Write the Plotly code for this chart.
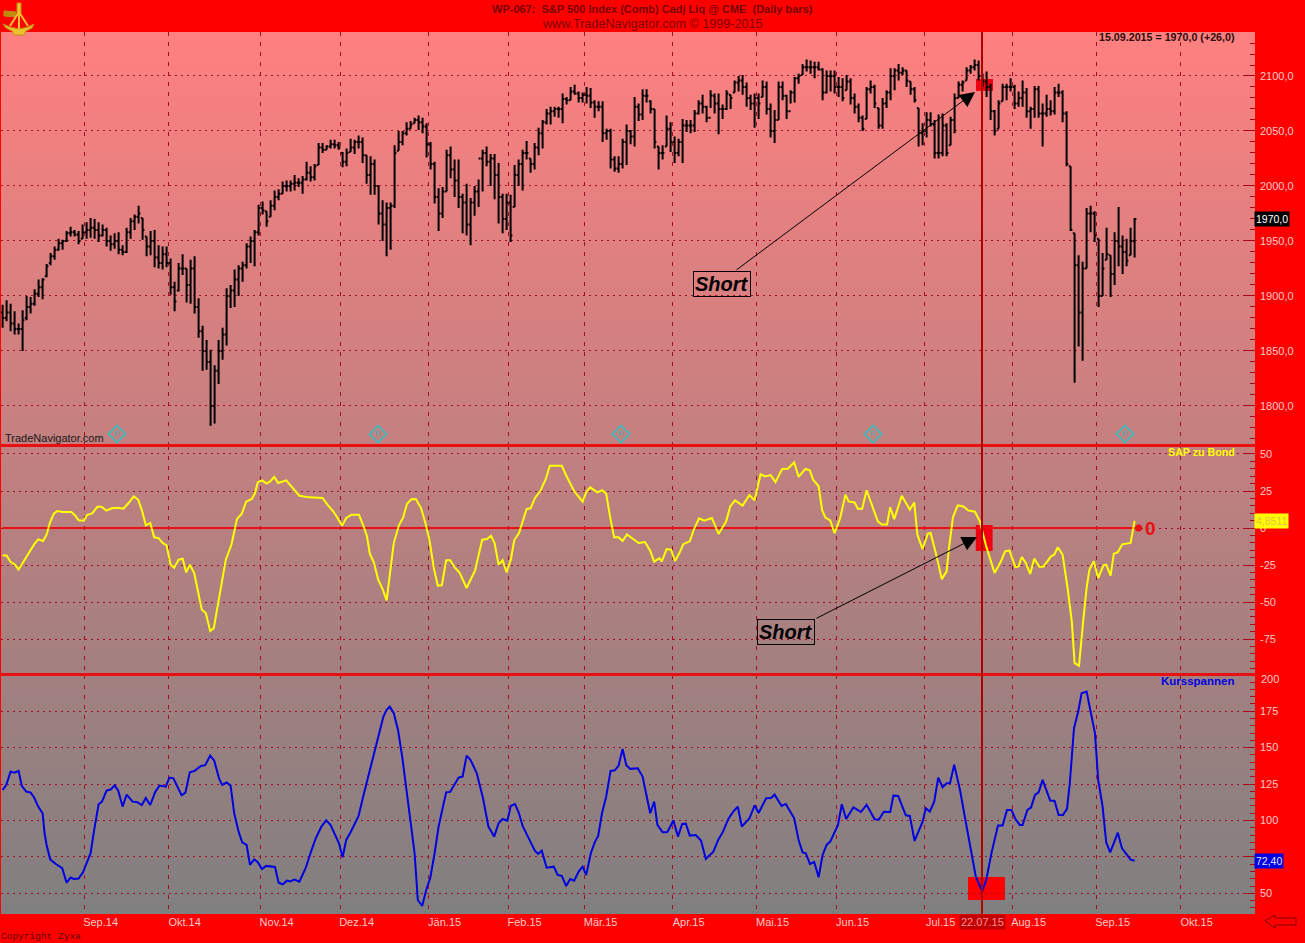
import base64, struct, zlib
import plotly.graph_objects as go

W, H = 1305, 943
bar_high = [
1892,1896,1893,1886,1875,1887,1900,1899,1906,1915,
1916,1929,1939,1945,1952,1951,1959,1963,1960,1959,
1965,1967,1971,1970,1967,1965,1962,1955,1957,1958,
1946,1962,1971,1974,1982,1971,1954,1959,1960,1946,
1945,1945,1934,1913,1930,1938,1925,1933,1936,1898,
1873,1860,1851,1837,1860,1871,1907,1910,1924,1928,
1931,1948,1954,1960,1983,1986,1977,1987,1996,1997,
2004,2005,2005,2010,2007,2009,2022,2018,2020,2039,
2039,2037,2042,2042,2040,2031,2034,2043,2042,2046,
2044,2028,2027,2024,2000,1987,1985,1985,2037,2050,
2050,2058,2059,2062,2064,2062,2057,2040,2022,1998,
1999,2033,2036,2024,2024,1993,2002,1989,2000,2006,
2033,2036,2029,2029,2021,1993,1993,1992,2019,2024,
2033,2041,2025,2039,2053,2060,2070,2072,2072,2072,
2084,2081,2090,2092,2086,2085,2090,2089,2078,2077,
2077,2052,2052,2027,2027,2043,2056,2051,2081,2075,
2088,2088,2078,2070,2036,2037,2064,2058,2045,2043,
2061,2060,2060,2069,2078,2083,2073,2087,2084,2084,
2074,2087,2083,2096,2100,2101,2094,2083,2084,2084,
2096,2095,2075,2069,2095,2095,2083,2087,2099,2102,
2111,2115,2114,2113,2113,2107,2105,2105,2105,2099,
2098,2101,2098,2084,2075,2064,2090,2096,2092,2071,
2080,2087,2107,2107,2111,2108,2105,2095,2090,2071,
2057,2067,2067,2060,2065,2066,2057,2063,2084,2095,
2096,2108,2110,2115,2114,2102,2104,2093,2069,2078,
2093,2093,2098,2092,2086,2096,2089,2072,2091,2091,
2075,2083,2078,2090,2093,2087,2068,2018,1957,1937,
1931,1980,1982,1977,1952,1939,1962,1937,1958,1981,
1955,1952,1962,1971]
bar_low = [
1871,1877,1868,1865,1865,1850,1878,1884,1891,1899,
1897,1917,1928,1933,1941,1942,1949,1954,1954,1947,
1952,1952,1953,1952,1949,1954,1945,1941,1943,1938,
1937,1939,1952,1960,1966,1951,1936,1937,1926,1925,
1924,1926,1901,1886,1904,1919,1894,1893,1884,1862,
1832,1833,1782,1784,1820,1842,1855,1889,1890,1900,
1913,1925,1930,1927,1955,1974,1963,1972,1978,1987,
1993,1995,1995,1996,1999,1993,2005,2004,2005,2019,
2030,2033,2034,2034,2033,2017,2018,2031,2029,2034,
2021,2002,1992,1992,1965,1950,1936,1942,1980,2032,
2037,2046,2052,2057,2051,2048,2026,2015,1984,1959,
1971,1995,2007,1990,1980,1957,1955,1946,1973,1981,
1995,2018,2000,1988,1966,1957,1960,1949,1981,2000,
1996,2024,2012,2015,2028,2034,2056,2056,2063,2062,
2057,2074,2078,2083,2076,2076,2075,2071,2062,2068,
2040,2042,2016,2013,2012,2016,2019,2038,2036,2059,
2060,2076,2066,2034,2015,2024,2036,2031,2021,2027,
2021,2049,2048,2049,2065,2066,2058,2071,2066,2047,
2061,2069,2070,2085,2086,2083,2072,2069,2053,2061,
2081,2065,2044,2039,2060,2078,2061,2075,2076,2093,
2101,2104,2102,2098,2105,2078,2084,2086,2084,2081,
2077,2087,2074,2066,2058,2050,2061,2084,2071,2052,
2052,2071,2078,2087,2096,2101,2090,2083,2076,2036,
2037,2044,2054,2025,2025,2027,2027,2037,2048,2080,
2086,2096,2102,2105,2096,2090,2081,2060,2046,2052,
2077,2078,2086,2070,2072,2072,2062,2052,2062,2062,
2036,2063,2064,2065,2081,2058,2018,1959,1821,1854,
1841,1925,1958,1949,1890,1900,1933,1899,1910,1927,
1920,1927,1937,1935]
bar_close = [
1880,1885,1875,1870,1870,1878,1890,1893,1902,1908,
1915,1927,1936,1942,1948,1950,1957,1958,1956,1950,
1958,1960,1962,1960,1955,1960,1950,1947,1950,1942,
1940,1958,1968,1972,1975,1960,1945,1950,1935,1930,
1938,1930,1908,1895,1925,1925,1910,1925,1890,1868,
1850,1840,1800,1832,1850,1865,1900,1905,1915,1925,
1928,1945,1950,1958,1980,1978,1968,1982,1990,1993,
2000,2000,2002,2003,2003,2006,2012,2008,2018,2035,
2033,2036,2038,2037,2035,2022,2030,2035,2040,2040,
2028,2010,2020,2000,1975,1965,1980,1982,2030,2040,
2048,2052,2056,2060,2058,2054,2038,2020,1990,1975,
1995,2028,2015,2005,1990,1985,1965,1985,1995,2025,
2030,2022,2025,2010,1990,1970,1985,1955,2010,2020,
2030,2030,2020,2035,2048,2058,2066,2068,2070,2070,
2079,2078,2086,2084,2080,2083,2082,2076,2072,2072,
2048,2050,2024,2016,2020,2040,2050,2045,2072,2065,
2082,2082,2070,2040,2030,2030,2052,2040,2030,2040,
2055,2055,2055,2066,2075,2072,2062,2082,2075,2070,
2070,2084,2080,2094,2096,2090,2080,2075,2080,2075,
2090,2070,2050,2060,2090,2082,2068,2085,2098,2100,
2108,2108,2108,2108,2106,2085,2100,2100,2090,2090,
2080,2095,2080,2072,2062,2052,2088,2090,2075,2055,
2075,2085,2100,2105,2103,2105,2096,2088,2078,2048,
2050,2060,2056,2030,2030,2055,2030,2060,2080,2092,
2094,2105,2108,2110,2100,2095,2090,2068,2050,2075,
2090,2090,2090,2075,2080,2085,2068,2070,2088,2066,
2066,2070,2068,2085,2085,2066,2020,1960,1928,1885,
1925,1975,1975,1955,1900,1925,1938,1920,1950,1945,
1940,1932,1950,1970]
bar_open = [
1885,1880,1885,1875,1870,1870,1880,1890,1893,1902,
1908,1918,1930,1936,1942,1948,1950,1957,1958,1956,
1952,1958,1960,1962,1960,1955,1960,1950,1947,1950,
1942,1940,1958,1968,1972,1971,1954,1945,1950,1935,
1930,1938,1930,1908,1905,1925,1925,1910,1925,1890,
1868,1850,1840,1800,1832,1850,1865,1900,1905,1915,
1925,1928,1945,1950,1958,1980,1977,1972,1982,1990,
1993,2000,2000,2002,2003,2003,2006,2012,2008,2019,
2035,2033,2036,2038,2037,2030,2022,2031,2035,2040,
2040,2028,2010,2020,2000,1975,1965,1980,1982,2032,
2040,2048,2052,2057,2060,2058,2054,2038,2020,1990,
1975,1995,2028,2015,2005,1990,1985,1965,1985,1995,
2025,2030,2022,2025,2010,1990,1970,1985,1981,2010,
2020,2030,2025,2020,2035,2048,2058,2066,2068,2070,
2070,2079,2078,2086,2084,2080,2083,2082,2076,2072,
2072,2048,2050,2024,2016,2020,2040,2050,2045,2072,
2065,2082,2077,2070,2036,2030,2036,2052,2040,2030,
2040,2055,2055,2055,2066,2075,2072,2062,2082,2075,
2070,2070,2083,2085,2094,2096,2090,2080,2075,2080,
2081,2090,2070,2050,2060,2090,2082,2068,2085,2098,
2101,2108,2108,2108,2108,2106,2085,2100,2100,2090,
2090,2087,2095,2080,2072,2062,2061,2088,2090,2071,
2055,2075,2085,2100,2105,2103,2105,2095,2088,2071,
2048,2050,2060,2056,2030,2030,2055,2037,2060,2080,
2092,2096,2105,2108,2110,2100,2095,2090,2068,2052,
2077,2090,2090,2090,2075,2080,2085,2068,2070,2088,
2066,2066,2070,2068,2085,2085,2066,2018,1957,1928,
1885,1925,1975,1975,1952,1900,1933,1937,1920,1950,
1945,1940,1937,1950]

bond_x = [0,1,2,3,4,5,6.4,8,8.9,10.1,11,11.8,12.8,13.7,15,17.2,18.2,19,20.3,21.1,22.4,23.7,24.8,25.9,27.3,28.9,30.2,31.5,32.8,33.9,34.9,35.8,36.9,37.9,39,40,41,42,42.9,44,45,45.9,46.8,47.9,48.7,49.8,50.8,51.9,52.8,53.9,54.9,55.8,57.2,58.6,59.8,60.9,62.3,63.1,63.8,64.9,66,66.9,67.9,68.9,70.9,72.4,74.2,76.6,80,81.2,82.8,84.9,85.9,87.2,89.1,90.4,91.1,91.8,92.8,93.9,95,96,97,97.8,99.1,100.1,101.1,102.2,103.3,104.6,105.7,106.7,107.8,108.8,109.8,110.9,111.9,113,114.2,116,118.1,119.9,121.1,122.1,123,124,125,126,127.1,127.9,129.1,130.2,131,132,133.1,134.4,135.8,136.8,139.8,140.8,142.9,145,146,146.9,148.7,149.9,150.9,152,152.9,154,155,156.1,157.4,159,160.6,161.9,162.9,164.2,164.8,166,167.1,168.1,169.2,170.2,171.8,172.8,174.1,175.4,177.3,179,180.9,181.9,183.1,185,186.7,188,189.5,190.6,192,193.2,194.9,196.3,197.9,199,200.7,201.8,202.6,204,204.9,205.7,206.9,208,209.4,210.7,211.5,213,213.8,214.9,216,217.2,218.8,219.8,221.1,221.9,222.9,224.8,226.8,227.9,228.7,230,231.3,232,233.1,234.8,236,236.6,237.6,238.8,240.2,241.4,243.1,244.3,245.9,248,249.6,250.6,251.7,253.2,254,254.8,255.8,256.9,257.9,259.2,260.2,262.1,262.9,263.8,265,266.3,267.3,268,269.1,270.1,271,271.7,272.8,273.9,275.2,275.9,277,277.8,278.8,279.9,282,283]
bond_y = [-18.5,-18.5,-23,-24.5,-28,-24,-17.5,-10.6,-7.7,-8.8,-4.5,3.4,9.7,11.5,10.8,10.8,8.3,5.2,5,8.8,9.9,14.4,14.4,11.7,13.3,13.7,13,16.9,21.4,19.1,11.3,1.8,3.4,-6.3,-6.8,-10.1,-11.7,-24.8,-26.8,-21.4,-20.7,-30,-24.8,-30.4,-40.5,-55.2,-57.4,-69.6,-67.6,-50.7,-37.2,-21.4,-11.3,6.1,9.7,17.8,19.6,23.6,31,32.2,30,31.5,34.5,30.4,32.2,27.7,21.8,20.7,20.3,15.8,10.8,1.6,6.8,9,9,0,-5.6,-17.3,-23.2,-34.9,-41.2,-48.9,-28.2,-10.1,2,6.8,16.4,19.4,19.6,13.5,3.4,-7.9,-27,-39,-38.7,-21.8,-21.8,-26.6,-30,-40.5,-28.8,-7.9,-7.4,-5.2,-10.1,-24.8,-21.8,-30,-20.9,-8.3,-3.4,6.8,12.8,13.3,20.3,24.8,33.1,42.1,42.1,36,24.8,17.8,24.8,27.5,24.1,25.5,23.2,5.6,-6.3,-6.3,-8.8,-4.3,-7,-10.1,-9.5,-15.3,-22.7,-20.3,-22.5,-14.2,-14.6,-22.3,-16.9,-10.8,-9,-1.1,6.5,5,6.8,-4,4.5,14.6,18.7,15.1,22.3,18.7,36.3,34.9,35.8,31,39.9,40.1,44.4,34.5,39.9,39,32.7,28.2,11.9,7,5.2,-3.4,6.8,22.5,18,17.3,13,13,25.5,16.9,4.5,2.3,2.3,14,6,21.8,12.4,17.3,-4.5,-14.2,-3.8,-3.4,-14.6,-34.5,-29.3,-13.5,7.4,15.3,14.6,11.9,11,4.5,-12.4,-30.4,-22.5,-15.8,-15.1,-26.4,-25.9,-19.6,-23.6,-31,-20.7,-26.1,-26.1,-19.1,-18,-13,-18,-41.7,-63,-91.2,-93,-64.2,-40.5,-28.2,-22.5,-33.8,-25.2,-24.8,-32.2,-17.3,-16.4,-11,-10.1,4.85]

range_x = [0,0.9,2,3,4,4.8,5.9,7,7.85,8.9,10,10.5,11,11.9,13.3,14.9,16,17,17.8,19,20.1,21.1,22,22.9,24,24.85,26,27.1,28,28.9,30,31,32.5,33.55,34.8,35.8,36.9,38.2,39.25,40.8,41.7,42.7,43.7,44.75,45.7,46.8,48,49.6,50.65,51.9,52.9,54.1,54.9,56,57,57.9,59,59.9,61,61.85,62.9,63.8,64.85,65.9,68.1,69,70.05,71.1,71.9,73,74.2,75.75,77.1,78.3,79.7,80.9,82,83.3,84.1,85,85.9,87,88.2,89,90.35,91.1,92.1,93.15,94.2,95.2,96,96.8,97.8,98.85,99.9,100.9,102,103,103.8,104.9,105.9,106.9,108,109,110,110.9,111.9,113,114,115,116,117,118.55,120.1,121.45,122.9,124,125,126.2,127.05,128.1,129.1,130,131.2,132.2,133.1,133.9,134.8,136,137.8,138.75,139.8,140.9,141.9,142.9,144,145,145.9,147.05,148.1,148.9,149.85,150.9,152,153.05,154,155,155.9,156.9,158.8,160,161.9,162.9,163.7,165,166.2,167.7,168.85,169.9,170.8,171.8,173.3,174.6,175.8,177.7,178.9,180.1,181.5,182.75,183.8,184.8,186.7,188,189,190.9,192.1,193,194.75,195.8,197.9,199,200,200.8,201.85,202.9,204,205,206,206.9,208.85,209.8,210.9,212.7,214.6,216,217,218,219.1,220.3,221.9,222.7,223.9,225.8,226.8,228,230,230.8,231.8,232.9,233.9,235,236,236.85,237.9,239.35,240.7,242.05,243.3,244.9,245.9,247.3,248.85,250,251.1,252.2,253.2,254.3,255,256.2,257.1,258.1,259,260,261.9,263,264,265.1,266.1,266.8,267.85,268.9,269.75,271,272,273.1,273.9,275,275.9,276.9,277.95,278.8,279.85,280.9,282,283]
range_y = [120.9,124.3,133.5,132.8,134,123.7,119.8,119.1,115.9,109.5,104.9,91.2,83.2,73.3,70.1,67.2,57.3,60.8,59.8,60.1,64.4,71.7,77.5,93.5,111.1,112.9,120.5,121.4,124.1,120.5,109.5,117.7,112.9,112.7,110.6,115.4,110.6,119.8,123.9,123.2,129.4,128.9,123.2,117.3,119.1,133.1,134,137.4,137.9,144.5,141.1,128.9,124.4,126,123.9,104.9,92.3,85,83.2,69.5,73.3,71.3,66.7,68.8,68.1,57.3,56.2,58.7,58.2,59.4,58,67.2,78.6,87.8,95.8,100.1,96.9,89.6,84.3,74.7,86.6,91.9,99.2,103.1,118.6,126.7,135.8,148.4,159.8,171.3,175.9,178.1,173.6,162.1,143.8,123.2,100.3,77.5,45.4,41.3,52.3,60.3,77.5,95.8,108.4,119.3,119.6,124.4,129.4,130.1,144.5,141.5,132.4,115.2,95.8,88.9,98.1,101,99.9,110,111.3,104.9,96.2,89.6,84.3,79.1,77,79.3,67.6,68.3,62.6,61.9,55,59.8,58.7,64.9,68.3,62.6,77.5,85.5,89.4,104.9,116.4,134,134.4,137.6,149.1,138.1,135.4,135.8,130.1,104.9,112.9,97,91.9,92.1,99.9,88.9,97.6,97.8,89.6,90,86.2,73.6,78.6,86.6,92.3,101.4,106.4,109.4,95.8,101.3,110.4,105.1,115.2,115.4,117.7,109.9,111.3,101.5,86.6,78.1,77.5,70.1,71.5,61,76.3,83.2,85.5,96.9,111.1,101,109,105.8,110.8,106,100.8,100.6,106,105.8,117,116.8,103.5,103.1,85.9,99.2,108.4,106.1,112.9,129.4,122.8,125.5,125.5,138.3,120.9,100.3,79.7,61.4,51.1,59.2,78.6,96.5,96.5,107.2,107.2,101,96.9,96.9,107.2,108.8,117.5,119.3,127.8,113.6,113.4,103.8,103.8,107.9,125.5,163.3,174.7,187.3,188.4,173.6,159.8,127.8,109.5,85,78.1,85.5,91.6,80.9,77,73.1,72.4]

month_pos = [20.5,41.5,64.5,84.5,106.5,126.5,145.5,167.5,188.5,208.5,230.5,252.5,273.5,294.5]
month_txt = ["Sep.14","Okt.14","Nov.14","Dez.14","Jän.15","Feb.15","Mär.15","Apr.15","Mai.15","Jun.15","Jul.15","Aug.15","Sep.15","Okt.15"]
price_ticks = [1800,1850,1900,1950,2000,2050,2100]
price_txt = ["1800,0","1850,0","1900,0","1950,0","2000,0","2050,0","2100,0"]
bond_ticks = [-75,-50,-25,0,25,50]
range_ticks = [50,75,100,125,150,175]
range_txt = ["50","","100","125","150","175"]
icon_x = [28.6,93.85,154.6,217.6,280.6]
icon_y = [1774.5]*5
cross_k = 244.85

RED, GRID, TICK = "#ff0000", "#a80c24", "#b00018"
LBL = "#ffc8c8"
FONT = "Liberation Sans"
def px(x): return x / W
def py(y): return 1 - y / H

rows = b"".join(b"\x00" + bytes((round(255 - 127 * i / 881), 128, 128)) for i in range(882))
def chunk(t, d):
    return struct.pack(">I", len(d)) + t + d + struct.pack(">I", zlib.crc32(t + d))
png = b"\x89PNG\r\n\x1a\n" + chunk(b"IHDR", struct.pack(">IIBBBBB", 1, 882, 8, 2, 0, 0, 0)) + chunk(b"IDAT", zlib.compress(rows)) + chunk(b"IEND", b"")
bg = "data:image/png;base64," + base64.b64encode(png).decode()

fig = go.Figure()
fig.add_trace(go.Ohlc(x=list(range(len(bar_high))), open=bar_open, high=bar_high, low=bar_low, close=bar_close,
    xaxis="x", yaxis="y", tickwidth=0.45, showlegend=False, hoverinfo="skip",
    increasing=dict(line=dict(color="#000000", width=2)), decreasing=dict(line=dict(color="#000000", width=2))))
fig.add_trace(go.Scatter(x=icon_x, y=icon_y, mode="markers+text", text=["R"]*5, textfont=dict(size=8, color="#40b0b0", family=FONT),
    textposition="middle center", marker=dict(symbol="diamond-open", size=13, color="#48b4b4", line=dict(width=2, color="#48b4b4")),
    xaxis="x", yaxis="y", showlegend=False, hoverinfo="skip"))
fig.add_trace(go.Scatter(x=[0, 284], y=[0, 0], mode="lines", line=dict(color="#e81010", width=2), xaxis="x", yaxis="y2", showlegend=False, hoverinfo="skip"))
fig.add_trace(go.Scatter(x=bond_x, y=bond_y, mode="lines", line=dict(color="#ffff00", width=2), xaxis="x", yaxis="y2", showlegend=False, hoverinfo="skip"))
fig.add_trace(go.Scatter(x=[284], y=[0], mode="markers", marker=dict(color="#e81010", size=7), xaxis="x", yaxis="y2", showlegend=False, hoverinfo="skip"))
fig.add_trace(go.Scatter(x=range_x, y=range_y, mode="lines", line=dict(color="#0000e0", width=2), xaxis="x", yaxis="y3", showlegend=False, hoverinfo="skip"))

yax = dict(side="right", anchor="x", showgrid=True, griddash="1.5px,4.5px", gridcolor=GRID, gridwidth=1, zeroline=False, showline=False,
           ticks="inside", ticklen=10, tickwidth=1, tickcolor=TICK, tickfont=dict(family=FONT, size=11, color=LBL), ticklabelstandoff=4)
shapes = [
    dict(type="rect", xref="x", yref="y", x0=243.35, x1=247.6, y0=2086.4, y1=2097.3, fillcolor="#f00010", line_width=0, layer="below"),
    dict(type="rect", xref="x", yref="y2", x0=243.3, x1=247.5, y0=-15.5, y1=2, fillcolor="#f00010", line_width=0, layer="below"),
    dict(type="rect", xref="x", yref="y3", x0=241.35, x1=250.6, y0=45.4, y1=61.2, fillcolor="#ff0000", line_width=0, layer="below"),
    dict(type="line", xref="paper", yref="paper", x0=0, x1=px(1255), y0=py(445.5), y1=py(445.5), line=dict(color="#e81010", width=3)),
    dict(type="line", xref="paper", yref="paper", x0=0, x1=px(1255), y0=py(674.5), y1=py(674.5), line=dict(color="#e81010", width=3)),
    dict(type="line", xref="x", yref="paper", x0=cross_k, x1=cross_k, y0=py(32), y1=py(914), line=dict(color="#b00000", width=2)),
]
def path(points, close=True):
    return "M" + " L".join(f"{px(a):.5f},{py(b):.5f}" for a, b in points) + (" Z" if close else "")
gold, gold2 = "#ecc030", "#c08c10"
for pts, col in [
    ([(3, 24), (10, 27), (19, 29), (28, 27), (34, 24), (32, 28), (26, 31), (24, 35), (14, 35), (12, 31), (6, 28)], gold),
    ([(17, 3), (21, 3), (21, 13), (17, 13)], gold),
    ([(4, 11), (16, 12), (16, 17), (4, 16)], gold2),
]:
    shapes.append(dict(type="path", xref="paper", yref="paper", path=path(pts), fillcolor=col, line=dict(color=gold2, width=1)))
shapes.append(dict(type="path", xref="paper", yref="paper", path=path([(10, 26), (19, 12), (28, 26)], close=False), line=dict(color=gold, width=2)))
shapes.append(dict(type="path", xref="paper", yref="paper", path=path([(19, 12), (19, 29)], close=False), line=dict(color=gold, width=2)))
shapes.append(dict(type="path", xref="paper", yref="paper",
    path=path([(1265, 921), (1275, 915), (1275, 918), (1296, 918), (1296, 925), (1275, 925), (1275, 928)]),
    fillcolor="#ff0000", line=dict(color="#800000", width=1)))

def label(text, x, y, size=11, color="#000", bold=False, family=FONT, anchor="center", **kw):
    t = f"<b>{text}</b>" if bold else text
    return dict(text=t, xref="paper", yref="paper", x=px(x), y=py(y), xanchor=anchor, yanchor="middle", showarrow=False,
                font=dict(size=size, color=color, family=family), **kw)
ann = [
    label("WP-067:  S&amp;P 500 Index (Comb) Cadj Liq @ CME  (Daily bars)", 652.5, 9, 11, "#780000", True),
    label("www.TradeNavigator.com © 1999-2015", 652.5, 24, 12.6, "#800000"),
    label("15.09.2015 = 1970,0 (+26,0)", 1096.5, 37, 10.7, "#300808", True, anchor="left"),
    label("TradeNavigator.com", 3, 438, 11, "#181818", anchor="left"),
    label("SAP zu Bond", 1237, 452, 10.7, "#ffff00", True, anchor="right"),
    label("Kursspannen", 1237, 681, 11.5, "#0000e0", True, anchor="right"),
    label("Copyright Zyxa", -1, 936, 9.5, "#600000", family="Liberation Mono", anchor="left"),
    label("200", 1259, 679, 11, LBL, anchor="left"),
    label("22.07.15", 982, 922, 11, "#ff9090", anchor="center", bgcolor="#c00000"),
    dict(text="1970,0", xref="paper", yref="y", x=px(1254), y=1970, xanchor="left", yanchor="middle", showarrow=False, bgcolor="#000000",
         font=dict(size=10.5, color="#ffffff", family=FONT), borderpad=1),
    dict(text="4,8511", xref="paper", yref="y2", x=px(1254), y=4.85, xanchor="left", yanchor="middle", showarrow=False, bgcolor="#ffff00",
         font=dict(size=10.5, color="#e8c040", family=FONT), borderpad=1),
    dict(text="72,40", xref="paper", yref="y3", x=px(1254), y=72.4, xanchor="left", yanchor="middle", showarrow=False, bgcolor="#0000e0",
         font=dict(size=10.5, color="#e0e0ff", family=FONT), borderpad=1),
    dict(text="<b>0</b>", xref="x", yref="y2", x=285, y=0, xanchor="left", yanchor="middle", showarrow=False,
         font=dict(size=19, color="#e81010", family=FONT)),
    dict(text="", xref="x", yref="y", x=243.1, y=2085.5, axref="x", ayref="y", ax=183.1, ay=1922.7, showarrow=True,
         arrowhead=2, arrowsize=3, arrowwidth=1, arrowcolor="#000000", standoff=0),
    dict(text="", xref="x", yref="y2", x=243.6, y=-6, axref="x", ayref="y2", ax=203.1, ay=-61.5, showarrow=True,
         arrowhead=2, arrowsize=3, arrowwidth=1, arrowcolor="#000000", standoff=0),
    dict(text="<b><i>Short</i></b>", xref="x", yref="y", x=179.85, y=1910.5, showarrow=False, bordercolor="#000000", borderwidth=1, borderpad=1,
         font=dict(size=20, color="#000000", family=FONT)),
    dict(text="<b><i>Short</i></b>", xref="x", yref="y2", x=195.85, y=-70.3, showarrow=False, bordercolor="#000000", borderwidth=1, borderpad=1,
         font=dict(size=20, color="#000000", family=FONT)),
]

fig.update_layout(
    width=W, height=H, margin=dict(l=0, r=0, t=0, b=0), paper_bgcolor=RED, plot_bgcolor="rgba(0,0,0,0)",
    showlegend=False, shapes=shapes, annotations=ann,
    images=[dict(source=bg, xref="paper", yref="paper", x=px(1), y=py(32), sizex=1254 / W, sizey=882 / H, xanchor="left", yanchor="top",
                 sizing="stretch", layer="below")],
    xaxis=dict(domain=[px(1), px(1255)], range=[-0.4, 313.1], anchor="y3", rangeslider=dict(visible=False), tickmode="array",
               tickvals=month_pos, ticktext=month_txt, ticks="", ticklabelshift=16, showgrid=True, griddash="4px,6px", gridcolor=GRID, gridwidth=1,
               zeroline=False, showline=False, tickfont=dict(family=FONT, size=11, color=LBL)),
    yaxis=dict(yax, domain=[py(445), py(32)], range=[1764.5, 2140], tickmode="array", tickvals=price_ticks, ticktext=price_txt,
               minor=dict(ticks="inside", ticklen=5, tickcolor=TICK, dtick=10, tick0=1800, showgrid=False)),
    yaxis2=dict(yax, domain=[py(674), py(446)], range=[-98.6, 55.4], tickmode="array", tickvals=bond_ticks, ticktext=[str(v) for v in bond_ticks],
                minor=dict(ticks="inside", ticklen=5, tickcolor=TICK, dtick=5, tick0=0, showgrid=False)),
    yaxis3=dict(yax, domain=[py(914), py(675)], range=[35.8, 199.8], tickmode="array", tickvals=range_ticks, ticktext=range_txt,
                minor=dict(ticks="inside", ticklen=5, tickcolor=TICK, dtick=5, tick0=0, showgrid=False)),
)
fig.write_html("out.html", config=dict(displayModeBar=False),
               post_script="document.body.style.margin='0';document.body.style.background='#ff0000';document.body.style.overflow='hidden';")
